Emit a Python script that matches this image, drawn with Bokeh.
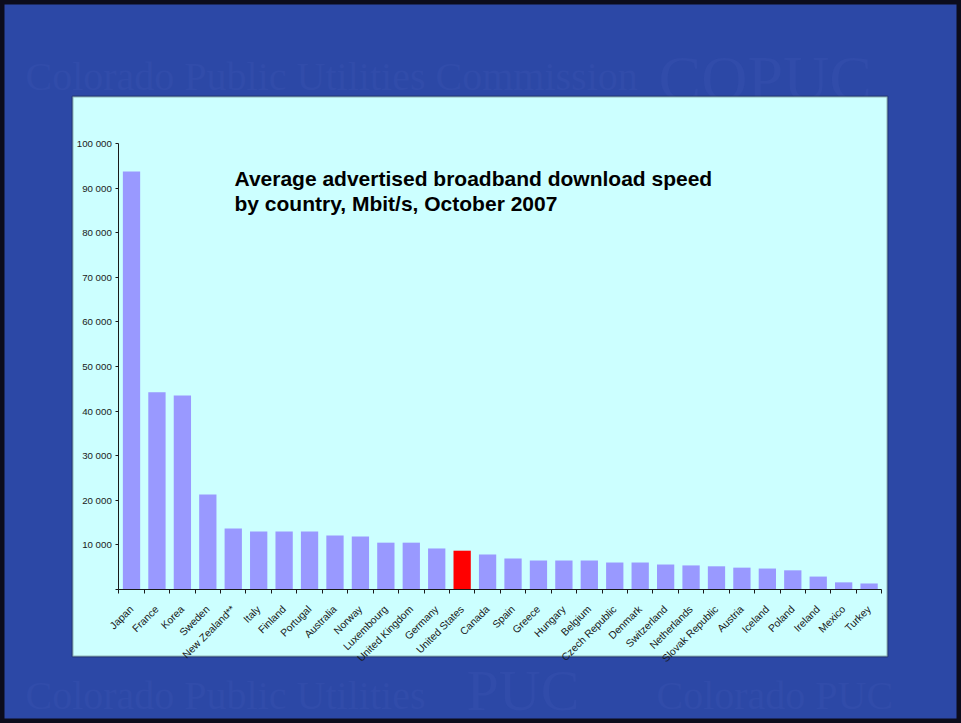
import math
from bokeh.plotting import figure
from bokeh.models import (Range1d, LinearAxis, FixedTicker, BoxAnnotation, Label,
                          ColumnDataSource)
from bokeh.embed import file_html
from bokeh.resources import INLINE

# ---------------- data ----------------
countries = ["Japan", "France", "Korea", "Sweden", "New Zealand**", "Italy", "Finland",
             "Portugal", "Australia", "Norway", "Luxembourg", "United Kingdom", "Germany",
             "United States", "Canada", "Spain", "Greece", "Hungary", "Belgium",
             "Czech Republic", "Denmark", "Switzerland", "Netherlands", "Slovak Republic",
             "Austria", "Iceland", "Poland", "Ireland", "Mexico", "Turkey"]
speeds = [93700, 44200, 43500, 21300, 13700, 13000, 13000, 13000, 12100, 11900, 10500,
          10500, 9200, 8700, 7850, 6950, 6500, 6500, 6500, 6050, 6050, 5600, 5400, 5200,
          4900, 4700, 4300, 2900, 1600, 1350]
highlight = "United States"
y_ticks = [0, 10000, 20000, 30000, 40000, 50000, 60000, 70000, 80000, 90000, 100000]
y_tick_labels = ["", "10 000", "20 000", "30 000", "40 000", "50 000", "60 000",
                 "70 000", "80 000", "90 000", "100 000"]
title_lines = ["Average advertised broadband download speed",
               "by country, Mbit/s, October 2007"]
watermark_top = ["Colorado Public Utilities Commission", "COPUC"]
watermark_bottom = ["Colorado Public Utilities", "PUC", "Colorado PUC"]

# ---------------- styles ----------------
SLIDE_BLUE = "#2C48A6"
PANEL = "#CCFFFF"
BAR = "#9999FF"
BAR_HI = "#FF0000"
INK = "#1a1a1a"
WM = "#314CAA"

W, H = 961, 723
N = len(countries)
YMAX = y_ticks[-1]
# pixel positions of the value axes inside the slide
AX_L, AX_R = 118.3, 881.3     # slot 0 .. slot N
AX_B, AX_T = 589.0, 143.0     # value 0 .. YMAX


def px_x(px):
    return (px - AX_L) * N / (AX_R - AX_L)


def px_y(py):
    return (AX_B - py) * YMAX / (AX_B - AX_T)


centers = [i + 0.5 for i in range(N)]
bounds = list(range(N + 1))
colors = [BAR_HI if c == highlight else BAR for c in countries]
source = ColumnDataSource(dict(x=centers, country=countries, speed=speeds, color=colors))

p = figure(width=W, height=H, x_range=Range1d(px_x(0), px_x(W)),
           y_range=Range1d(px_y(H), px_y(0)),
           x_axis_location=None, y_axis_location=None, output_backend="svg",
           toolbar_location=None, min_border_left=0, min_border_right=0,
           min_border_top=0, min_border_bottom=0, background_fill_color=SLIDE_BLUE,
           border_fill_color=SLIDE_BLUE, outline_line_color="#0c0c1c",
           outline_line_width=8)
p.grid.visible = False

# watermark text (behind everything)
wm_specs = [
    (watermark_top[0], 25, 76, "40px"),
    (watermark_top[1], 658, 78, "64px"),
    (watermark_bottom[0], 25, 695, "40px"),
    (watermark_bottom[1], 466, 690, "58px"),
    (watermark_bottom[2], 656, 695, "40px"),
]
for txt, x0, y0, fs in wm_specs:
    p.add_layout(Label(x=px_x(x0), y=px_y(y0), text=txt, text_font="Liberation Serif",
                       text_font_size=fs, text_color=WM, text_baseline="alphabetic",
                       text_align="left", level="image"))

# chart panel
p.add_layout(BoxAnnotation(left=px_x(72), right=px_x(887), top=px_y(96), bottom=px_y(656),
                           fill_color=PANEL, fill_alpha=1, line_color="#0a0a0a",
                           line_width=2, level="underlay"))

p.vbar(x="x", top="speed", width=0.68, fill_color="color", line_color=None,
       source=source)

# y axis
yaxis = LinearAxis(ticker=FixedTicker(ticks=y_ticks, minor_ticks=[]),
                   major_label_overrides={t: l for t, l in zip(y_ticks, y_tick_labels)},
                   fixed_location=0, bounds=(0, YMAX))
yaxis.major_tick_out = 3
yaxis.major_tick_in = 0
yaxis.minor_tick_line_color = None
yaxis.axis_line_color = INK
yaxis.major_tick_line_color = INK
yaxis.major_label_text_font = "Liberation Sans"
yaxis.major_label_text_font_size = "9.7px"
yaxis.major_label_text_color = INK
yaxis.major_label_standoff = 4
p.add_layout(yaxis, "left")

# x axis: labels at slot centres, ticks at slot boundaries
xaxis = LinearAxis(ticker=FixedTicker(ticks=centers, minor_ticks=bounds),
                   major_label_overrides={c: n for c, n in zip(centers, countries)},
                   fixed_location=0, bounds=(0, N))
xaxis.major_tick_line_color = None
xaxis.major_tick_out = 0
xaxis.major_tick_in = 0
xaxis.minor_tick_out = 4
xaxis.minor_tick_in = 0
xaxis.minor_tick_line_color = INK
xaxis.axis_line_color = INK
xaxis.major_label_orientation = math.pi / 4
xaxis.major_label_text_font = "Liberation Sans"
xaxis.major_label_text_font_size = "10.4px"
xaxis.major_label_text_color = INK
xaxis.major_label_standoff = 14
p.add_layout(xaxis, "below")

# title inside the panel
for line, base in zip(title_lines, [177.7, 202.7]):
    p.add_layout(Label(x=px_x(234), y=px_y(base), text=line, text_font="Liberation Sans",
                       text_font_style="bold", text_font_size="21px", text_color="black",
                       text_baseline="alphabetic", text_align="left"))

open("out.html", "w").write(file_html(p, INLINE))
